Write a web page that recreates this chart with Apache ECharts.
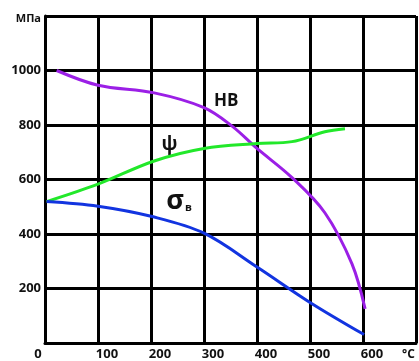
<!DOCTYPE html>
<html>
<head>
<meta charset="utf-8">
<script src="https://cdn.jsdelivr.net/npm/echarts@6/dist/echarts.min.js"></script>
<style>
  html, body { margin: 0; padding: 0; background: #ffffff; }
  #chart { width: 419px; height: 361px; }
</style>
</head>
<body>
<div id="chart"></div>
<script>
// ---- data (temperature °C, value) ----
const xTickLabels = ['0', '100', '200', '300', '400', '500', '600'];
const yTickLabels = ['200', '400', '600', '800', '1000'];
const yUnit = 'МПа';
const xUnit = '°C';

const hbTemp = [22, 100, 206, 300, 353, 400, 466, 528, 579, 604];
const hbVal  = [1000, 946, 918, 864, 796, 714, 607, 478, 291, 125];

const psiTemp = [3, 100, 206, 300, 400, 466, 528, 566];
const psiVal  = [519, 583, 668, 714, 732, 739, 775, 786];

const sigTemp = [3, 100, 202, 300, 400, 500, 602];
const sigVal  = [519, 502, 464, 403, 279, 149, 31];

const labelHB = 'HB', labelPsi = 'ψ', labelSigma = 'σ', labelSigmaSub = 'в';
const posHB = [342, 889], posPsi = [235, 729], posSigma = [253, 519];

const FONT = '"Open Sans", "DejaVu Sans", sans-serif';
const pairs = (xs, ys) => xs.map((x, i) => [x, ys[i]]);

const chart = echarts.init(document.getElementById('chart'), null, { renderer: 'canvas' });

function lineSeries(name, xs, ys, color, mp) {
  return {
    name, type: 'line', data: pairs(xs, ys),
    smooth: 0.35, showSymbol: false, symbol: 'none',
    lineStyle: { color, width: 3 },
    z: 5,
    markPoint: {
      symbol: 'circle', symbolSize: 0, silent: true,
      data: [mp]
    }
  };
}

chart.setOption({
  animation: false,
  backgroundColor: '#ffffff',
  grid: { left: 45, top: 16, right: -6, bottom: 16 },
  xAxis: {
    type: 'value', min: 0, max: 700, interval: 100,
    axisLine: { show: true, onZero: false, lineStyle: { color: '#000', width: 3 } },
    axisTick: { show: false },
    splitLine: { show: true, lineStyle: { color: '#000', width: 3 } },
    axisLabel: {
      show: true, margin: 5, color: '#111', fontFamily: FONT, fontWeight: 'bold', fontSize: 13,
      padding: [0, 0, 0, 18],
      formatter: function (v) {
        const i = Math.round(v / 100);
        if (i === 0) return '{z|' + xTickLabels[0] + '}';
        return xTickLabels[i] !== undefined ? xTickLabels[i] : '';
      },
      rich: { z: { fontFamily: FONT, fontWeight: 'bold', fontSize: 13, color: '#111', padding: [0, 32, 0, 0] } }
    }
  },
  yAxis: {
    type: 'value', min: 0, max: 1200, interval: 200,
    axisLine: { show: true, onZero: false, lineStyle: { color: '#000', width: 3 } },
    axisTick: { show: false },
    splitLine: { show: true, lineStyle: { color: '#000', width: 3 } },
    axisLabel: {
      show: true, margin: 4, color: '#111', fontFamily: FONT, fontWeight: 'bold', fontSize: 13,
      formatter: function (v) {
        if (v === 1200) return '{u|' + yUnit + '}';
        const i = Math.round(v / 200) - 1;
        return (i >= 0 && yTickLabels[i] !== undefined) ? yTickLabels[i] : '';
      },
      rich: { u: { fontFamily: FONT, fontWeight: 'bold', fontSize: 11, color: '#111', padding: [6, 0, 0, 0] } }
    }
  },
  graphic: [{
    type: 'text', left: 402, top: 349, silent: true,
    style: { text: xUnit, fill: '#111', font: 'bold 12px ' + FONT }
  }],
  series: [
    lineSeries('HB', hbTemp, hbVal, '#9b1fe6', {
      coord: posHB, value: 0,
      label: { show: true, position: 'inside', formatter: labelHB, color: '#111',
               fontFamily: FONT, fontWeight: 'bold', fontSize: 17 }
    }),
    lineSeries('psi', psiTemp, psiVal, '#22e82a', {
      coord: posPsi, value: 0,
      label: { show: true, position: 'inside', formatter: labelPsi, color: '#111',
               fontFamily: FONT, fontWeight: 'bold', fontSize: 19 }
    }),
    lineSeries('sigma', sigTemp, sigVal, '#1234e0', {
      coord: posSigma, value: 0,
      label: { show: true, position: 'inside', color: '#111',
               formatter: '{s|' + labelSigma + '}{b|' + labelSigmaSub + '}',
               rich: {
                 s: { fontFamily: FONT, fontWeight: 'bold', fontSize: 27, color: '#111' },
                 b: { fontFamily: FONT, fontWeight: 'bold', fontSize: 11, color: '#111', verticalAlign: 'bottom', padding: [0, 0, 2, 1] }
               } }
    })
  ]
});
</script>
</body>
</html>
